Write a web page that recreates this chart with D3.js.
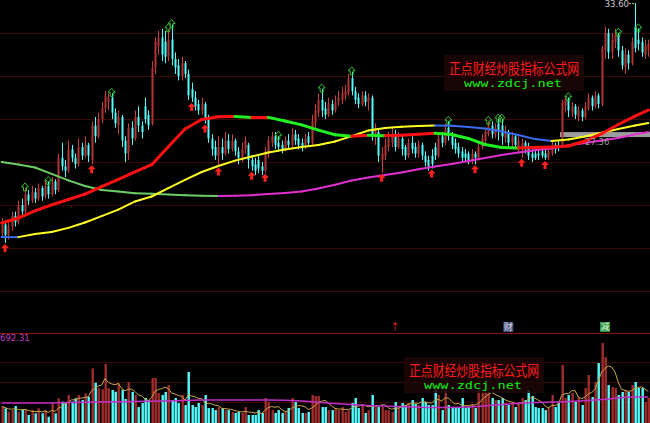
<!DOCTYPE html>
<html><head><meta charset="utf-8">
<script src="https://cdn.jsdelivr.net/npm/d3@7"></script>
<style>html,body{margin:0;padding:0;background:#000;overflow:hidden}</style>
</head><body>
<svg id="chart" width="650" height="423"></svg>
<script>
// ---------------- DATA ----------------
const open = [22.9,23.3,22.8,23.2,23.7,23.4,24.2,23.9,24.7,24.4, 24.8,24.5,25.0,24.6,25.1,24.7,25.3,24.9,26.4,26.0,
25.8,26.8,26.4,26.1,26.9,26.5,27.0,26.3,27.9,27.4, 28.2,28.7,29.0,29.2,28.5,27.9,28.3,27.2,26.6,27.8,
27.3,28.3,27.9,28.8,28.4,28.0,30.6,31.6,32.0,31.8, 31.1,31.9,31.0,30.7,30.2,30.8,30.3,29.6,29.2,28.9,
28.6,28.9,28.2,27.3,26.9,26.5,26.9,26.6,27.2,26.8, 27.2,26.7,26.4,26.8,27.0,26.3,26.1,26.3,26.0,25.8,
26.6,27.1,27.4,27.1,27.0,26.8,27.2,27.0,27.5,27.3, 27.1,26.9,27.4,27.1,28.0,28.5,29.1,28.7,28.4,28.9,
28.6,29.0,29.1,29.3,29.4,30.1,29.5,29.2,28.9,29.3, 29.0,29.2,27.4,27.6,26.3,26.5,26.9,27.1,27.5,26.9,
27.3,26.9,26.5,27.1,26.9,26.6,27.0,26.5,26.3,26.5, 26.9,26.5,27.4,27.1,27.8,27.4,27.1,26.9,26.7,26.6,
26.6,26.3,26.6,26.4,26.9,27.2,27.5,27.9,27.5,28.0, 27.9,27.3,27.6,27.1,27.4,26.9,26.8,27.1,26.9,26.6,
26.6,26.6,26.7,26.6,26.4,26.6,27.0,27.0,27.0,28.8, 29.1,28.5,28.8,28.3,28.6,28.3,28.7,29.2,28.8,29.3,
28.9,31.4,32.2,31.3,31.8,32.1,31.4,30.6,31.2,30.8, 32.5,31.9,31.8,31.2,31.4];
const close = [23.3,22.8,23.2,23.7,23.4,24.2,23.9,24.7,24.4,24.8, 24.5,25.0,24.6,25.1,24.7,25.3,24.9,26.4,26.0,25.8,
26.8,26.4,26.1,26.9,26.5,27.0,26.5,27.9,27.4,28.2, 28.7,29.3,29.2,28.5,28.0,28.3,27.2,26.6,27.8,27.3,
28.3,27.9,27.6,28.2,27.9,30.6,31.8,32.0,31.2,31.1, 31.9,31.0,30.6,30.2,30.8,30.3,29.3,29.2,28.8,28.6,
28.9,28.2,27.3,26.8,26.5,26.9,26.6,27.2,26.8,27.2, 26.7,26.4,26.8,27.2,26.3,26.0,25.8,25.9,25.8,26.7,
27.2,27.4,27.0,26.9,26.8,27.2,27.0,27.5,27.2,27.0, 26.9,27.3,27.1,28.1,28.6,29.1,28.6,28.4,28.9,28.6,
29.0,29.2,29.4,29.5,30.1,29.5,29.1,28.9,29.3,29.0, 29.2,27.4,27.8,26.5,26.6,27.0,27.3,27.5,26.9,27.3,
26.8,26.5,27.1,26.8,26.6,27.0,26.5,26.2,26.0,26.1, 26.5,27.3,27.1,27.7,27.4,27.0,26.8,26.6,26.4,26.4,
26.3,26.6,26.4,26.9,27.3,27.6,27.9,27.5,27.8,27.6, 27.4,27.6,27.1,27.4,27.0,27.2,27.1,26.8,26.5,26.4,
26.4,26.5,26.5,26.4,26.7,27.0,26.8,26.9,29.0,29.1, 28.6,28.8,28.4,28.6,28.3,28.8,29.2,28.8,29.3,28.9,
31.5,32.2,31.3,31.9,32.1,31.4,30.7,31.2,30.8,31.8, 31.5,31.7,31.3,31.6,31.7];
const high = [23.6,23.5,23.4,23.9,23.9,24.4,24.5,25.0,24.9,25.1, 25.0,25.2,25.1,25.4,25.3,25.5,25.4,26.6,27.1,26.3,
27.2,27.0,26.6,27.3,27.1,27.4,27.1,28.1,28.3,28.5, 29.0,29.5,29.4,29.4,28.7,28.6,28.4,27.4,28.0,28.1,
28.6,28.8,28.1,29.2,28.6,30.9,32.0,32.3,32.4,32.3, 32.4,32.6,31.3,31.0,31.1,30.9,30.5,29.9,29.5,29.1,
29.2,29.0,28.4,27.5,27.2,27.4,27.3,27.6,27.5,27.5, 27.3,26.9,27.1,27.4,27.1,26.5,26.4,26.5,26.2,26.9,
27.4,27.6,27.6,27.4,27.2,27.4,27.5,27.8,27.7,27.5, 27.3,27.5,27.6,28.4,28.9,29.4,29.6,29.0,29.2,29.1,
29.3,29.5,29.7,29.8,30.3,30.4,29.7,29.4,29.5,29.5, 29.4,29.3,28.0,27.7,26.9,27.3,27.6,27.8,27.7,27.6,
27.4,27.0,27.3,27.4,27.1,27.2,27.1,26.7,26.5,26.8, 27.1,27.5,27.6,28.0,28.1,27.6,27.3,27.1,26.9,26.8,
26.7,26.8,26.7,27.1,27.5,27.8,28.1,28.1,28.0,28.2, 28.2,27.9,27.7,27.6,27.5,27.4,27.3,27.2,27.1,26.8,
26.8,26.8,26.9,26.8,26.9,27.2,27.1,27.2,29.1,29.3, 29.2,29.0,28.9,28.8,28.7,29.0,29.4,29.3,29.5,29.4,
31.6,32.5,32.4,32.2,32.4,32.2,31.6,31.5,31.4,32.0, 33.6,32.4,32.0,31.9,31.9];
const low = [22.7,22.44,22.6,23.0,23.2,23.3,23.7,23.8,24.2,24.3, 24.3,24.4,24.4,24.5,24.5,24.6,24.7,24.8,25.8,25.5,
25.7,26.2,25.9,26.0,26.3,26.4,26.2,26.1,27.1,27.3, 28.0,28.5,28.6,28.2,27.8,27.5,26.9,26.2,26.3,27.0,
27.2,27.6,27.3,28.0,27.7,27.9,30.3,31.2,30.9,30.8, 30.9,30.7,30.3,30.0,30.0,30.1,29.1,29.0,28.6,28.4,
28.4,28.0,27.1,26.5,26.3,26.0,26.3,26.5,26.6,26.7, 26.5,26.1,26.2,26.6,25.9,25.8,25.6,25.7,25.6,25.7,
26.4,26.9,26.8,26.7,26.6,26.7,26.8,26.9,27.0,26.8, 26.7,26.8,26.9,27.0,27.8,28.3,28.3,28.2,28.3,28.4,
28.5,28.8,28.9,29.1,29.3,29.3,28.9,28.7,28.8,28.8, 28.6,27.2,27.0,26.2,25.7,26.3,26.7,26.9,26.7,26.8,
26.5,26.3,26.4,26.6,26.4,26.4,26.3,26.0,25.8,25.9, 26.3,26.4,26.9,27.0,27.2,26.8,26.6,26.4,26.2,26.2,
26.1,26.1,26.1,26.3,26.8,27.0,27.4,27.3,27.3,27.2, 27.0,27.1,26.9,26.9,26.8,26.7,26.4,26.6,26.3,26.2,
26.3,26.3,26.4,26.3,26.3,26.5,26.6,26.7,26.9,28.5, 28.3,28.3,28.2,28.1,28.1,28.2,28.6,28.6,28.7,28.7,
28.8,31.0,31.0,31.0,31.5,31.1,30.5,30.3,30.5,30.7, 31.3,31.4,31.1,31.0,31.1];
const volume = [130,117,90,103,135,90,109,103,64,103, 77,117,77,103,50,157,77,197,170,162,
223,170,197,223,183,236,209,435,321,276, 268,470,276,263,249,316,263,191,326,247,
223,127,159,199,183,358,358,239,223,247, 302,183,199,159,223,143,406,143,127,159,
143,223,119,119,103,127,119,103,103,88, 80,88,80,127,64,64,64,103,80,199,
167,103,80,103,80,88,119,199,167,119, 80,80,88,223,215,215,127,127,103,103,
119,103,127,88,103,159,199,119,143,80, 103,223,143,127,127,103,103,88,167,127,
159,143,159,183,151,143,199,167,143,143, 263,223,103,263,143,127,119,127,199,119,
127,151,119,263,247,263,247,199,183,183, 199,159,143,159,127,167,199,183,263,215,
127,119,119,103,127,223,127,159,462,199, 223,239,167,199,143,279,382,207,326,477,
637,525,302,286,279,223,247,263,247,302, 326,279,279,167,199];

// moving-average lines (sampled every 5 bars)
const maIndex = [0,5,10,15,20,25,30,35,40,45,50,55,60,65,70,75,80,85,90,95,100,105,110,115,120,125,130,135,140,145,150,155,160,165,170,175,180,185,190,194];
const maTrend = [23.37,23.60,23.93,24.21,24.46,24.71,25.06,25.40,25.75,26.08,26.91,27.74,28.18,28.31,28.32,28.27,28.28,28.11,27.93,27.69,
27.47,27.40,27.45,27.43,27.45,27.50,27.54,27.48,27.30,27.02,26.88,26.86,26.88,26.90,26.95,27.18,27.52,27.95,28.34,28.62];
const maMedium = [22.72,22.71,22.86,22.95,23.14,23.39,23.69,23.99,24.37,24.60,24.99,25.37,25.74,26.02,26.27,26.46,26.65,26.79,26.90,27.00,
27.16,27.41,27.67,27.79,27.84,27.88,27.90,27.89,27.83,27.76,27.62,27.46,27.27,27.18,27.25,27.39,27.57,27.74,27.90,28.02];
const maLong = [26.20,26.09,25.95,25.65,25.35,25.09,24.90,24.83,24.75,24.73,24.69,24.66,24.63,24.62,24.63,24.66,24.72,24.76,24.83,24.97,
25.15,25.34,25.48,25.60,25.72,25.87,26.00,26.11,26.25,26.39,26.53,26.65,26.75,26.83,26.97,27.09,27.21,27.32,27.49,27.60];
const volMaIndex = [0,10,20,30,40,50,60,70,80,90,100,110,120,130,140,150,160,170,180,190,194];
const volMaLong = [159,159,163,167,171,175,183,183,183,175,155,139,131,123,127,147,163,171,187,207,207];

const buySignals = [7,14,33,50,51,83,96,105,134,146,149,150,170,185,191];
const lowArrows = [1,27,57,61,65,75,79,114,129,142,156,163];
const gridPrices = [32.2,30.2,28.2,26.2,24.2,22.2,20.2];
const volGrid = [485,326,167];
const supportLevel = 27.48, supportStart = 168, supportLabel = "27.36";
const volMaxLabel = "692.31";
const watermarkCn = "正点财经炒股指标公式网", watermarkUrl = "www.zdcj.net";
const panelTags = [{i:118, t:"\u2191", bg:null, c:"#ff3030"},{i:152, t:"财", bg:"#46557a", c:"#dde"},{i:181, t:"减", bg:"#2f8f3f", c:"#dfd"}];

// ---------------- DRAW ----------------
const W = 650, H = 423, N = open.length;
const svg = d3.select("#chart");
svg.append("rect").attr("width",W).attr("height",H).attr("fill","#000");

const x = d3.scaleLinear().domain([-0.5, N-0.5]).range([0, W]);
const y = d3.scaleLinear().domain([20.2, 33.74]).range([291.1, 0]);
const yv = d3.scaleLinear().domain([0, 692.31]).range([423, 336]);
const sepY = 333;

// grid
svg.append("g").selectAll("line").data(gridPrices).join("line")
  .attr("x1",0).attr("x2",W).attr("y1",d=>Math.round(y(d))+0.5).attr("y2",d=>Math.round(y(d))+0.5)
  .attr("stroke","#3a0808").attr("stroke-width",1);
svg.append("g").selectAll("line").data(volGrid).join("line")
  .attr("x1",0).attr("x2",W).attr("y1",d=>Math.round(yv(d))+0.5).attr("y2",d=>Math.round(yv(d))+0.5)
  .attr("stroke","#3a0808").attr("stroke-width",1);
svg.append("line").attr("x1",0).attr("x2",W).attr("y1",sepY+0.5).attr("y2",sepY+0.5)
  .attr("stroke","#8a1010").attr("stroke-width",1);

// support band
svg.append("rect").attr("x",x(supportStart-0.5)).attr("width",W-x(supportStart-0.5))
  .attr("y",y(supportLevel)-2.5).attr("height",5).attr("fill","#9c9c9c");

const idx = d3.range(N);
const upC = "#b03434", upWick="#c84040", dnC = "#54fcfc";
const bw = 2;
const cg = svg.append("g");
cg.selectAll("line").data(idx).join("line")
  .attr("x1",i=>Math.round(x(i))+0.5).attr("x2",i=>Math.round(x(i))+0.5)
  .attr("y1",i=>y(high[i])).attr("y2",i=>y(low[i]))
  .attr("stroke",i=>close[i]>=open[i]?upWick:dnC).attr("stroke-width",1);
cg.selectAll("rect").data(idx).join("rect")
  .attr("x",i=>Math.round(x(i))-0.5).attr("width",bw)
  .attr("y",i=>y(Math.max(open[i],close[i])))
  .attr("height",i=>Math.max(1,Math.abs(y(open[i])-y(close[i]))))
  .attr("fill",i=>close[i]>=open[i]?upC:dnC);

// MA lines, coloured by direction
function trendLine(values, xs, scale, upColor, downColor, width){
  const g = svg.append("g");
  for(let k=1;k<values.length;k++){
    g.append("line")
      .attr("x1",x(xs[k-1])).attr("y1",scale(values[k-1]))
      .attr("x2",x(xs[k])).attr("y2",scale(values[k]))
      .attr("stroke", values[k]>=values[k-1]?upColor:downColor)
      .attr("stroke-width",width).attr("stroke-linecap","round");
  }
}
trendLine(maLong, maIndex, y, "#e030d0", "#6ccc66", 2);
trendLine(maMedium, maIndex, y, "#ffff20", "#3a6cf0", 2);
trendLine(maTrend, maIndex, y, "#ff1010", "#20f020", 3);

// markers
const upPath = "M0,-4 L3.5,0 L1.5,0 L1.5,4 L-1.5,4 L-1.5,0 L-3.5,0 Z";
svg.append("g").selectAll("path").data(buySignals).join("path")
  .attr("d",upPath).attr("transform",i=>`translate(${x(i)},${y(high[i])-1})`)
  .attr("fill","none").attr("stroke","#30c030").attr("stroke-width",1);
const arrowPath = "M0,0 L4,4 L1.5,4 L1.5,8 L-1.5,8 L-1.5,4 L-4,4 Z";
svg.append("g").selectAll("path").data(lowArrows).join("path")
  .attr("d",arrowPath).attr("transform",i=>`translate(${x(i)},${y(low[i])+1})`)
  .attr("fill","#ff2020");

// max label
const maxI = d3.maxIndex(high);
svg.append("line").attr("x1",x(maxI)-6).attr("x2",x(maxI)).attr("y1",3.5).attr("y2",y(high[maxI])+0.5)
  .attr("stroke","#b0b0b0").attr("stroke-dasharray","2,1");
svg.append("text").attr("x",x(maxI)-6).attr("y",6.5).attr("text-anchor","end")
  .attr("font-family","DejaVu Sans, sans-serif").attr("font-size",8.5).attr("fill","#c8c8c8")
  .text(d3.format(".2f")(high[maxI]));
svg.append("text").attr("x",x(supportStart+7)).attr("y",y(supportLevel)+10)
  .attr("font-family","DejaVu Sans, sans-serif").attr("font-size",8.5).attr("fill","#9a9a9a")
  .text(supportLabel);

// volume bars
const vg = svg.append("g");
vg.selectAll("rect").data(idx).join("rect")
  .attr("x",i=>Math.round(x(i))-0.5).attr("width",2.4)
  .attr("y",i=>yv(volume[i])).attr("height",i=>yv(0)-yv(volume[i]))
  .attr("fill",i=>close[i]>=open[i]?"#a02c2c":"#54fcfc");
// volume MA5 (computed from the bars)
const vma5 = idx.map(i=>d3.mean(volume.slice(Math.max(0,i-4), i+1)));
svg.append("path").datum(idx).attr("fill","none").attr("stroke","#c8a848").attr("stroke-width",1)
  .attr("d", d3.line().x(i=>x(i)).y(i=>yv(vma5[i])));
svg.append("path").datum(volMaIndex.map((d,k)=>[d,volMaLong[k]])).attr("fill","none")
  .attr("stroke","#c030c8").attr("stroke-width",1.5)
  .attr("d", d3.line().x(d=>x(d[0])).y(d=>yv(d[1])).curve(d3.curveMonotoneX));
svg.append("text").attr("x",0).attr("y",341).attr("font-family","DejaVu Sans, sans-serif")
  .attr("font-size",8.5).attr("fill","#c040c0").text(volMaxLabel);

// tags above the separator
panelTags.forEach(t=>{
  const cx = x(t.i);
  if(t.bg) svg.append("rect").attr("x",cx-5).attr("y",sepY-11).attr("width",10).attr("height",10).attr("fill",t.bg);
  svg.append("text").attr("x",cx).attr("y",sepY-3).attr("text-anchor","middle")
    .attr("font-family","Noto Sans CJK SC, sans-serif").attr("font-size",9).attr("fill",t.c).text(t.t);
});

// watermarks
function watermark(cx, top){
  svg.append("rect").attr("x",cx-70).attr("y",top).attr("width",140).attr("height",36)
    .attr("fill","#1c0606").attr("opacity",0.85);
  svg.append("text").attr("x",cx-65).attr("y",top+19).attr("textLength",130).attr("lengthAdjust","spacingAndGlyphs")
    .attr("font-family","Noto Sans CJK SC, sans-serif").attr("font-size",15).attr("fill","#ff1a1a").text(watermarkCn);
  svg.append("text").attr("x",cx-50).attr("y",top+32).attr("textLength",98).attr("lengthAdjust","spacingAndGlyphs")
    .attr("font-family","DejaVu Sans Mono, monospace").attr("font-size",11).attr("fill","#10f010").text(watermarkUrl);
}
watermark(514, 55);
watermark(474, 357);
</script>
</body></html>
